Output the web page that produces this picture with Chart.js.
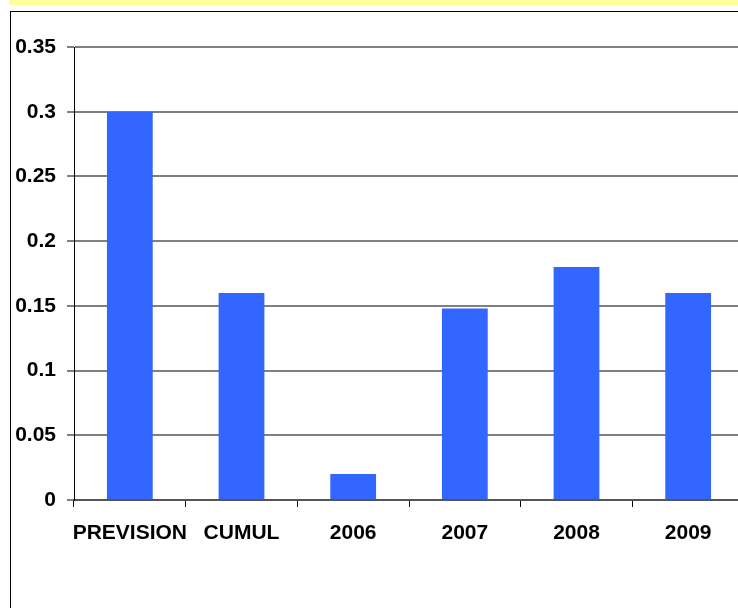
<!DOCTYPE html>
<html>
<head>
<meta charset="utf-8">
<script src="https://cdn.jsdelivr.net/npm/chart.js@4"></script>
<style>
    html, body { margin: 0; padding: 0; background: #fff; overflow: hidden; width: 738px; height: 608px; }
    .band { position: absolute; left: 9px; top: 0; width: 740px; height: 5px; background: #ffff99; }
    .frame { position: absolute; left: 10px; top: 11px; width: 800px; height: 700px; border-left: 1px solid #000; border-top: 1px solid #000; }
    .wrap { position: absolute; left: 0; top: 0; width: 760px; height: 608px; }
</style>
</head>
<body>
<div class="band"></div>
<div class="frame"></div>
<div class="wrap"><canvas id="chart"></canvas></div>
<script>
// values
const categories = ['PREVISION', 'CUMUL', '2006', '2007', '2008', '2009'];
const values = [0.30, 0.16, 0.02, 0.148, 0.18, 0.16];
const yTicks = [0, 0.05, 0.1, 0.15, 0.2, 0.25, 0.3, 0.35];

const labelFont = { family: "'Liberation Sans', Arial, sans-serif", size: 21, weight: 'bold' };

document.addEventListener('DOMContentLoaded', function() {
    const ctx = document.getElementById('chart');
    new Chart(ctx, {
        type: 'bar',
        data: {
            labels: categories,
            datasets: [{
                data: values,
                backgroundColor: '#3366ff',
                borderWidth: 0,
                barPercentage: 0.41,
                categoryPercentage: 1
            }]
        },
        options: {
            responsive: true,
            maintainAspectRatio: false,
            animation: false,
            layout: { padding: { top: 47, right: 16, left: 0, bottom: 0 } },
            plugins: { legend: { display: false }, tooltip: { enabled: false } },
            scales: {
                x: {
                    offset: true,
                    grid: {
                        offset: true,
                        drawOnChartArea: false,
                        drawTicks: true,
                        tickLength: 7,
                        color: '#000',
                        lineWidth: 1
                    },
                    border: { display: true, color: '#555', width: 2 },
                    ticks: { color: '#000', font: labelFont, padding: 14, maxRotation: 0, autoSkip: false },
                    afterFit: scale => { scale.height = 108; }
                },
                y: {
                    min: 0,
                    max: 0.35,
                    afterBuildTicks: scale => { scale.ticks = yTicks.map(v => ({ value: v })); },
                    grid: { color: '#808080', lineWidth: 2, tickLength: 7, drawTicks: true },
                    border: { display: true, color: '#000', width: 1 },
                    ticks: {
                        color: '#000',
                        font: labelFont,
                        padding: 11,
                        callback: v => String(Math.round(v * 100) / 100)
                    },
                    afterFit: scale => { scale.width = 74; }
                }
            }
        }
    });
});
</script>
</body>
</html>
